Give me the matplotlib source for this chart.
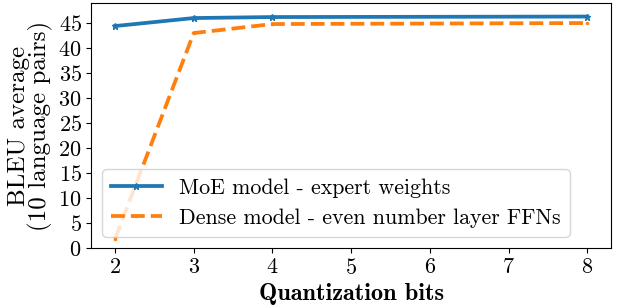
import matplotlib
matplotlib.use("Agg")
import matplotlib.pyplot as plt

bits = [2, 3, 4, 8]
moe = [44.4, 46.0, 46.2, 46.3]
dense = [1.8, 43.0, 44.8, 45.0]
labels = ["MoE model - expert weights", "Dense model - even number layer FFNs"]

plt.rcParams['font.family'] = 'serif'
plt.rcParams['font.serif'] = ['cmr10']
plt.rcParams['mathtext.fontset'] = 'cm'
plt.rcParams['axes.formatter.use_mathtext'] = True
plt.rcParams['axes.unicode_minus'] = False

fig, ax = plt.subplots(figsize=(6.24, 3.06), dpi=100)
ax.plot(bits, moe, '-', marker='*', markersize=5, linewidth=2.7, color='#1f77b4', label=labels[0])
ax.plot(bits, dense, '--', marker='.', markersize=3, linewidth=2.7, color='#ff7f0e', label=labels[1])
ax.set_ylim(0, 49)
ax.set_yticks(range(0, 50, 5))
ax.set_xticks(range(2, 9))
ax.tick_params(labelsize=16)
ax.set_xlabel("Quantization bits", fontsize=17.5, fontfamily='cmb10', labelpad=4)
ax.set_ylabel("BLEU average\n(10 language pairs)", fontsize=18, linespacing=0.9)
ax.legend(fontsize=15.8, loc='lower left', handlelength=2.3)
fig.subplots_adjust(left=0.1465, right=0.979, top=0.99, bottom=0.19)
fig.savefig("out.png", dpi=100)
